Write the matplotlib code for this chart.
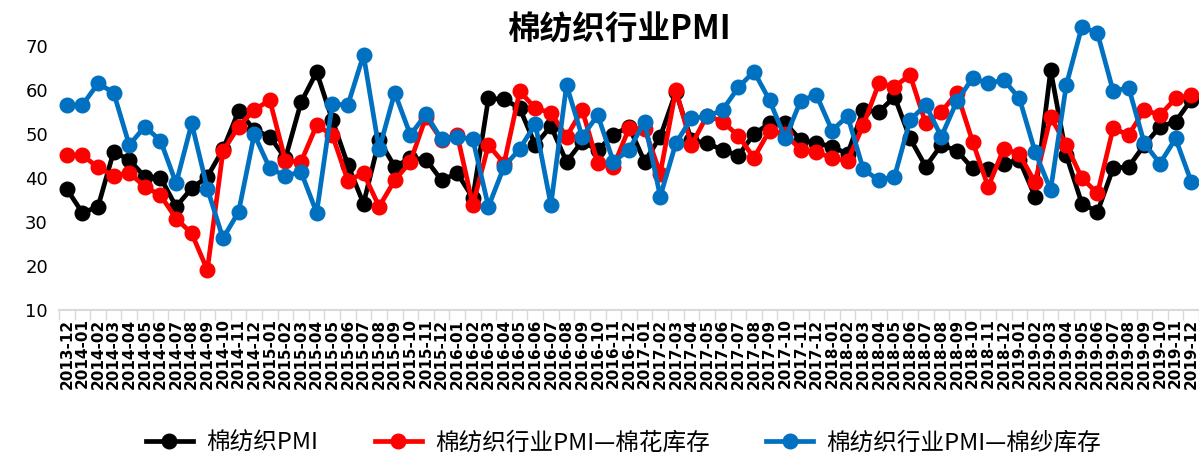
import matplotlib
matplotlib.use("Agg")
import matplotlib.pyplot as plt
import pandas as pd

plt.rcParams['font.family'] = ['Noto Sans CJK SC', 'DejaVu Sans']

months = [p.strftime('%Y-%m') for p in pd.period_range('2013-12', '2019-12', freq='M')]

pmi_total = [
    37.5, 32.1, 33.5, 46.0, 44.1, 40.3, 40.1, 33.5, 37.7, 40.3,
    46.5, 55.2, 51.0, 49.4, 44.5, 57.2, 64.1, 53.2, 43.0, 34.2,
    48.6, 42.6, 44.5, 44.2, 39.5, 41.1, 35.5, 58.1, 57.9, 55.9,
    47.5, 51.8, 43.7, 48.3, 46.4, 49.8, 51.7, 43.7, 49.4, 59.5,
    48.6, 47.9, 46.4, 45.1, 50.0, 52.4, 52.5, 48.6, 48.0, 47.1,
    45.5, 55.5, 55.0, 58.5, 49.0, 42.6, 47.5, 46.2, 42.2, 42.0,
    43.3, 44.1, 35.8, 64.5, 45.2, 34.2, 32.3, 42.2, 42.6, 47.5,
    51.7, 52.8, 57.8,
]

pmi_cotton_stock = [
    45.2, 45.2, 42.4, 40.5, 41.2, 38.0, 36.1, 30.8, 27.4, 19.1,
    46.1, 51.7, 55.5, 57.7, 43.9, 43.7, 52.0, 49.8, 39.4, 41.1,
    33.5, 39.5, 43.7, 53.9, 48.6, 49.8, 33.9, 47.5, 43.3, 59.7,
    55.9, 54.8, 49.4, 55.5, 43.4, 42.6, 51.3, 51.2, 41.0, 60.0,
    47.5, 54.2, 52.8, 49.6, 44.6, 50.8, 50.0, 46.4, 46.0, 44.5,
    43.9, 52.0, 61.5, 60.8, 63.4, 52.4, 55.0, 59.4, 48.3, 38.0,
    46.7, 45.4, 39.0, 53.9, 47.5, 40.0, 36.5, 51.3, 49.8, 55.5,
    54.3, 58.1, 58.8,
]

pmi_yarn_stock = [
    56.6, 56.6, 61.5, 59.4, 47.5, 51.7, 48.5, 38.8, 52.4, 37.6,
    26.3, 32.3, 49.9, 42.2, 40.5, 41.4, 32.1, 56.8, 56.6, 68.0,
    46.5, 59.4, 49.8, 54.5, 48.8, 49.4, 48.8, 33.5, 42.6, 46.6,
    52.3, 33.9, 61.1, 49.4, 54.3, 43.7, 46.4, 52.8, 35.8, 47.9,
    53.6, 54.0, 55.5, 60.6, 64.2, 57.7, 49.0, 57.6, 58.9, 50.8,
    54.1, 42.0, 39.5, 40.3, 53.2, 56.6, 49.4, 57.5, 62.7, 61.5,
    62.3, 58.1, 46.0, 37.3, 61.1, 74.4, 72.9, 59.8, 60.5, 47.9,
    43.3, 49.0, 39.2,
]

series_names = ['棉纺织PMI', '棉纺织行业PMI—棉花库存', '棉纺织行业PMI—棉纱库存']
series_colors = ['#000000', '#FF0000', '#0070C0']
y_ticks = [10, 20, 30, 40, 50, 60, 70]

fig = plt.figure(figsize=(11.99, 4.58), dpi=100)
ax = fig.add_axes([0.0492, 0.323, 0.9508, 0.5765])

x = list(range(len(months)))
for vals, name, col in zip([pmi_total, pmi_cotton_stock, pmi_yarn_stock],
                           series_names, series_colors):
    ax.plot(x, vals, color=col, lw=3.4, marker='o', ms=10.5,
            markerfacecolor=col, markeredgecolor=col, label=name,
            clip_on=False)

ax.set_xlim(-0.5, len(months) - 0.5)
ax.set_ylim(y_ticks[0], y_ticks[-1])
ax.set_yticks(y_ticks)
ax.tick_params(axis='y', length=0, labelsize=13, pad=8)
for lbl in ax.get_yticklabels():
    lbl.set_family(['DejaVu Sans'])

ax.set_xticks(x)
ax.set_xticklabels(months, rotation=90, fontsize=11, fontweight='bold',
                   family=['DejaVu Sans'])
ax.tick_params(axis='x', which='major', length=0, pad=6)
ax.set_xticks([i - 0.5 for i in range(len(months) + 1)], minor=True)
ax.tick_params(axis='x', which='minor', length=7, width=1, color='#D9D9D9',
               direction='out')

for side in ['left', 'right', 'top']:
    ax.spines[side].set_visible(False)
ax.spines['bottom'].set_color('#D9D9D9')
ax.spines['bottom'].set_linewidth(1.5)

fig.text(0.517, 0.935, '棉纺织行业PMI', ha='center', va='center',
         fontsize=23.5, fontweight='bold')

fig.legend(loc='center', bbox_to_anchor=(0.52, 0.033), ncol=3, frameon=False,
           fontsize=17, handlelength=2.0, columnspacing=2.4, handletextpad=0.55)

fig.savefig('out.png', dpi=100)
